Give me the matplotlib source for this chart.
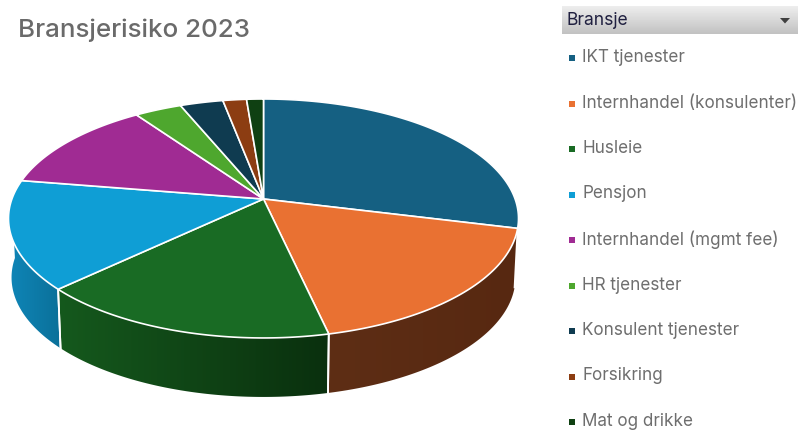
import numpy as np
import matplotlib
matplotlib.use("Agg")
import matplotlib.pyplot as plt
from matplotlib.colors import LinearSegmentedColormap
from matplotlib.patches import Polygon, Rectangle

categories = ["IKT tjenester", "Internhandel (konsulenter)", "Husleie", "Pensjon",
              "Internhandel (mgmt fee)", "HR tjenester", "Konsulent tjenester",
              "Forsikring", "Mat og drikke"]
values = [28.9, 17.6, 16.4, 14.7, 12.7, 3.5, 3.2, 1.75, 1.25]
colors = ["#156082", "#E97132", "#196B24", "#0F9ED5", "#A02B93",
          "#4EA72E", "#0F3B50", "#8C3D12", "#0F4012"]
side_left = {1: "#5E2E15", 2: "#15591D", 3: "#0F86B8"}
side_right = {1: "#572811", 2: "#0A300E", 3: "#0B7099"}
title = "Bransjerisiko 2023"
legend_title = "Bransje"

W, H = 798, 430
fig = plt.figure(figsize=(W / 100, H / 100), dpi=100)
ax = fig.add_axes([0, 0, 1, 1])
ax.axis("off")

CX, CY, A, B, K = 263.5, 199.0, 251.6, 116.3, 0.163
DEPTH = 59.0

def project(theta, drop=0.0):
    u, v = np.sin(theta), np.cos(theta)
    w = 1 + K * v
    s = 1 - 0.012 * drop / DEPTH
    return CX + s * A * u / w, CY - B * v / w + drop

edges = np.radians(np.concatenate([[0], np.cumsum(values)]) / sum(values) * 360)

# side wall: horizontal gradient clipped to the wall outline
for i, (t0, t1) in enumerate(zip(edges[:-1], edges[1:])):
    if i not in side_left:
        continue
    t0c, t1c = max(t0, np.radians(90)), min(t1, np.radians(270))
    ts = np.linspace(t0c, t1c, 160)
    xt, yt = project(ts)
    xb, yb = project(ts[::-1], DEPTH)
    outline = np.column_stack([np.r_[xt, xb], np.r_[yt, yb]])
    cmap = LinearSegmentedColormap.from_list(f"w{i}", [side_left[i], side_right[i]])
    im = ax.imshow(np.linspace(0, 1, 256).reshape(1, -1), cmap=cmap, vmin=0, vmax=1,
                   extent=(outline[:, 0].min(), outline[:, 0].max(),
                           outline[:, 1].max(), outline[:, 1].min()),
                   aspect="auto", zorder=2, interpolation="bilinear")
    im.set_clip_path(Polygon(outline, closed=True, transform=ax.transData))
    for t in (t0c, t1c):
        if np.radians(90) < t < np.radians(270):
            ax.plot(*zip(project(t), project(t, DEPTH)), color="white", lw=1.3, zorder=3)

# top face
for t0, t1, c in zip(edges[:-1], edges[1:], colors):
    ts = np.linspace(t0, t1, 120)
    px, py = project(ts)
    pts = np.column_stack([np.r_[CX, px], np.r_[CY, py]])
    ax.add_patch(Polygon(pts, closed=True, facecolor=c, edgecolor="white",
                         linewidth=1.2, joinstyle="round", zorder=4))

ax.text(18, 30, title, fontsize=18.7, color="#6A6A6A", family="Inter",
        ha="left", va="center", weight="medium")

# slicer header with vertical gradient
ax.imshow(np.linspace(0.93, 0.76, 32).reshape(-1, 1), cmap="gray", vmin=0, vmax=1,
          extent=(562, 798, 34, 6), aspect="auto", zorder=1)
ax.text(566.5, 20.5, legend_title, fontsize=12.6, color="#202040", family="Inter",
        ha="left", va="center")
ax.add_patch(Polygon([(780, 18), (790, 18), (785, 23.5)], closed=True,
                     facecolor="#404040", edgecolor="none"))

# legend
for i, (name, c) in enumerate(zip(categories, colors)):
    y = 57.5 + i * 45.5
    ax.add_patch(Rectangle((568.5, y - 2.5), 6.5, 6, facecolor=c, edgecolor="none"))
    ax.text(582, y, name, fontsize=12.3, color="#6E6E6E", family="Inter",
            ha="left", va="center")

ax.set_xlim(0, W)
ax.set_ylim(H, 0)
fig.savefig("out.png", dpi=100)
